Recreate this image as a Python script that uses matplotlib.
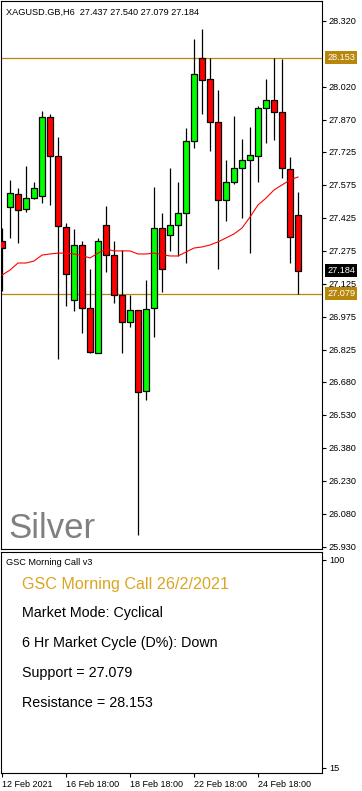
import matplotlib.pyplot as plt
import matplotlib.transforms as mtransforms
import numpy as np

plt.rcParams['font.family'] = ['Liberation Sans', 'DejaVu Sans']

# H6 candles, XAGUSD
opens = [27.319, 27.474, 27.533, 27.465, 27.514, 27.524, 27.883, 27.705, 27.383, 27.051,
         27.301, 27.014, 26.810, 27.392, 27.255, 27.074, 26.951, 27.005, 26.637, 27.014,
         27.378, 27.346, 27.392, 27.446, 27.774, 28.151, 28.055, 27.860, 27.505, 27.587,
         27.651, 27.687, 27.705, 27.924, 27.960, 27.905, 27.646, 27.437]
highs = [27.378, 27.596, 27.560, 27.660, 27.587, 27.910, 27.896, 27.792, 27.401, 27.374,
         27.319, 27.192, 27.333, 27.478, 27.319, 27.278, 27.074, 27.005, 27.142, 27.564,
         27.446, 27.651, 27.587, 27.833, 28.237, 28.283, 28.153, 28.005, 27.687, 27.887,
         27.783, 27.837, 27.933, 28.055, 28.153, 28.146, 27.701, 27.540]
lows = [27.092, 27.333, 27.310, 27.451, 27.510, 27.492, 27.483, 26.783, 27.024, 27.001,
        26.901, 26.810, 26.810, 27.178, 27.037, 26.810, 26.928, 25.983, 26.596, 26.883,
        27.087, 27.274, 27.251, 27.219, 27.742, 27.896, 27.728, 27.192, 27.410, 27.578,
        27.424, 27.264, 27.587, 27.764, 27.778, 27.605, 27.219, 27.079]
closes = [27.287, 27.537, 27.460, 27.514, 27.560, 27.883, 27.705, 27.387, 27.169, 27.301,
          27.014, 26.815, 27.319, 27.255, 27.074, 26.951, 27.005, 26.633, 27.010, 27.378,
          27.192, 27.392, 27.446, 27.774, 28.078, 28.051, 27.860, 27.505, 27.587, 27.651,
          27.687, 27.710, 27.924, 27.960, 27.905, 27.651, 27.337, 27.184]
ma = [27.164, 27.187, 27.219, 27.219, 27.228, 27.255, 27.260, 27.264, 27.264, 27.260,
      27.253, 27.242, 27.264, 27.283, 27.274, 27.274, 27.274, 27.260, 27.260, 27.264,
      27.257, 27.251, 27.251, 27.269, 27.287, 27.292, 27.301, 27.315, 27.333, 27.351,
      27.378, 27.428, 27.483, 27.514, 27.551, 27.574, 27.596, 27.610]

# 28.170 sits under the resistance label in the original, so it is left out
price_ticks = [28.320, 28.020, 27.870, 27.725, 27.575, 27.425, 27.275, 27.125,
               26.975, 26.825, 26.680, 26.530, 26.380, 26.230, 26.080, 25.930]
date_idx = [0, 8, 16, 24, 32]
date_labels = ["12 Feb 2021", "16 Feb 18:00", "18 Feb 18:00", "22 Feb 18:00", "24 Feb 18:00"]

support = 27.079
resistance = 28.153
last_close = 27.184
header = "XAGUSD.GB,H6  27.437 27.540 27.079 27.184"
info_title = "GSC Morning Call 26/2/2021"
info_lines = ["Market Mode: Cyclical", "6 Hr Market Cycle (D%): Down",
              "Support = 27.079", "Resistance = 28.153"]

GOLD = '#B8860B'
W, H = 362, 791


def frac(x0, y0, x1, y1):
    return [x0 / W, 1 - y1 / H, (x1 - x0) / W, (y1 - y0) / H]


fig = plt.figure(figsize=(W / 100, H / 100), dpi=100)
ax = fig.add_axes(frac(1, 1, 322, 549))
ax2 = fig.add_axes(frac(1, 552, 322, 773))

o = np.array(opens)
c = np.array(closes)
idx = np.arange(len(o))
cols = np.where(c >= o, '#00FF00', '#FF0000')

ax.vlines(idx, lows, highs, color='black', lw=0.9, zorder=2)
ax.bar(idx, np.abs(c - o), bottom=np.minimum(o, c), width=0.68, color=cols,
       edgecolor='black', linewidth=0.9, zorder=3)
ax.plot(idx, ma, color='red', lw=0.8, zorder=4)
ax.axhline(resistance, color=GOLD, lw=0.9, zorder=1)
ax.axhline(support, color=GOLD, lw=0.9, zorder=1)

ax.set_xlim(-0.125, 40.0)
ax.set_ylim(25.919, 28.410)
ax.set_xticks([])
ax.yaxis.tick_right()
ax.set_yticks(price_ticks)
ax.set_yticklabels(['%.3f' % t for t in price_ticks])
ax.tick_params(axis='y', direction='out', length=3, width=0.8, labelsize=6.6, pad=2)

trans = mtransforms.blended_transform_factory(ax.transAxes, ax.transData)
for val, bg in [(resistance, GOLD), (support, GOLD), (last_close, 'black')]:
    ax.text(1.016, val, '%.3f' % val, transform=trans, fontsize=6.6, color='white',
            va='center', ha='left', clip_on=False, zorder=10,
            bbox=dict(boxstyle='square,pad=0.2', fc=bg, ec='none'))

for a in (ax, ax2):
    for s in a.spines.values():
        s.set_linewidth(0.8)

fig.text(6 / W, 1 - 15 / H, header, fontsize=6.6, va='baseline')
fig.text(8 / W, 1 - 538 / H, 'Silver', fontsize=25, color='#808080', va='baseline')

# indicator subwindow
ax2.set_xlim(-0.125, 40.0)
ax2.set_ylim(12.96, 103.06)
ax2.yaxis.tick_right()
ax2.set_yticks([100, 15])
ax2.set_yticklabels(['100', '15'])
ax2.tick_params(axis='y', direction='out', length=3, width=0.8, labelsize=6.6, pad=2)
ax2.set_xticks(date_idx)
ax2.set_xticklabels(date_labels, ha='left')
ax2.tick_params(axis='x', direction='out', length=3, width=0.8, labelsize=6.5, pad=2)

fig.text(6 / W, 1 - 565 / H, 'GSC Morning Call v3', fontsize=6.6, va='baseline')
fig.text(22 / W, 1 - 589 / H, info_title, fontsize=11.6, color='#DAA520', va='baseline')
for k, line in enumerate(info_lines):
    fig.text(22 / W, 1 - (617 + 30 * k) / H, line, fontsize=10.3, va='baseline')

fig.savefig('out.png', dpi=100)
